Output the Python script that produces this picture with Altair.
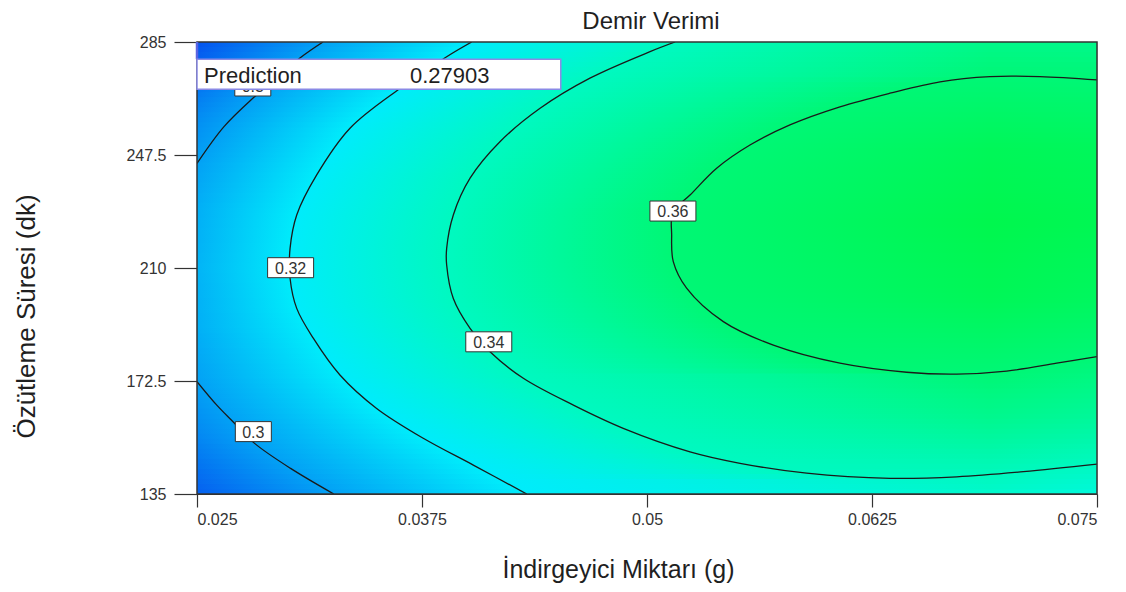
import altair as alt
import numpy as np
import pandas as pd

FONT = "Liberation Sans"
TEXT = "#1f1f1f"

# ---------------- axes ----------------
X_MIN, X_MAX = 0.025, 0.075
Y_MIN, Y_MAX = 135, 285
x_ticks = [0.025, 0.0375, 0.05, 0.0625, 0.075]
y_ticks = [135, 172.5, 210, 247.5, 285]

# ---------------- contour lines ----------------
c030a_x = [0.0320, 0.0307, 0.0281, 0.0265, 0.0250]
c030a_y = [285.0, 279.6, 266.3, 256.9, 244.7]

c030b_x = [0.0250, 0.0261, 0.0270, 0.0282, 0.0302, 0.0326]
c030b_y = [172.3, 164.5, 159.0, 151.8, 143.5, 135.0]

c032_x = [0.04026, 0.03887, 0.03628, 0.0335, 0.03165, 0.03054, 0.03017, 0.03017,
          0.03054, 0.03146, 0.03294, 0.03498, 0.03757, 0.04035, 0.04332]
c032_y = [285.0, 280.1, 269.6, 256.4, 240.9, 227.6, 216.5, 206.6,
          196.6, 186.7, 174.5, 163.4, 153.5, 144.6, 135.0]

c034_x = [0.05156, 0.05017, 0.04683, 0.04406, 0.04183, 0.04017, 0.03924, 0.03887,
          0.03887, 0.03924, 0.04017, 0.04128, 0.04313, 0.04591, 0.04868, 0.05239,
          0.05517, 0.05887, 0.0635, 0.06721, 0.07091, 0.075]
c034_y = [285.0, 281.8, 273.0, 263.0, 251.9, 239.8, 227.6, 216.5,
          211.0, 199.9, 190.0, 182.2, 173.4, 164.5, 156.8, 149.0,
          145.2, 141.9, 140.2, 140.7, 142.4, 144.9]

c036_x = [0.075, 0.07183, 0.06906, 0.06628, 0.0635, 0.06072, 0.05794, 0.05572,
          0.05387, 0.05239, 0.05144, 0.05137, 0.05146, 0.0522, 0.05424, 0.05702,
          0.06072, 0.06443, 0.06721, 0.06998, 0.07276, 0.075]
c036_y = [272.4, 273.5, 273.5, 271.8, 268.0, 263.5, 257.5, 250.8,
          243.1, 234.2, 228.6, 221.0, 212.1, 203.3, 192.2, 184.4,
          178.4, 175.4, 174.8, 175.8, 178.4, 180.6]

contours = [
    ("a", 0.30, c030a_x, c030a_y),
    ("b", 0.30, c030b_x, c030b_y),
    ("c", 0.32, c032_x, c032_y),
    ("d", 0.34, c034_x, c034_y),
    ("e", 0.36, c036_x, c036_y),
]

# contour labels
label_text = ["0.36", "0.34", "0.32", "0.3", "0.3"]
label_x = [0.05144, 0.04121, 0.0302, 0.02813, 0.0281]
label_y = [228.9, 185.5, 210.1, 155.7, 270.4]

# response estimated along the two edges and the ridge column (x = 0.069)
left_edge_y = [285, 260, 244.7, 230, 210, 190, 172.3, 155, 135]
left_edge_z = [0.279, 0.2943, 0.300, 0.3036, 0.3050, 0.3038, 0.300, 0.2934, 0.2825]
ridge_x = 0.069
ridge_y = [285, 273, 250, 225, 200, 175, 160, 141, 135]
ridge_z = [0.3545, 0.360, 0.3675, 0.3704, 0.3680, 0.360, 0.3531, 0.3405, 0.3366]
right_edge_y = [285, 272.4, 250, 226.5, 200, 180.6, 160, 144.9, 135]
right_edge_z = [0.3543, 0.360, 0.3668, 0.3692, 0.3661, 0.360, 0.3499, 0.340, 0.3326]

# colour map (response -> colour), blue -> cyan -> green
cmap_z = [0.2566, 0.3239, 0.3912]
cmap_r = [8, 0, 0]
cmap_g = [0, 250, 245]
cmap_b = [232, 252, 0]

# prediction flag
pred_label = "Prediction"
pred_value = "0.27903"
pred_box_x = [0.025, 0.04521]
pred_box_y = [279.3, 269.3]
pred_text_x = [0.02539, 0.03683]
pred_text_y = 271.3


def zcolor(z):
    r = np.interp(z, cmap_z, cmap_r)
    g = np.interp(z, cmap_z, cmap_g)
    b = np.interp(z, cmap_z, cmap_b)
    return "#%02x%02x%02x" % (int(round(r)), int(round(g)), int(round(b)))


def edge(yc, ys, zs):
    return float(np.interp(yc, ys[::-1], zs[::-1]))


def crossings(xs, ys, yc):
    out = []
    for i in range(len(xs) - 1):
        y0, y1 = ys[i], ys[i + 1]
        if y0 == y1:
            continue
        if (y0 - yc) * (y1 - yc) <= 0:
            t = (yc - y0) / (y1 - y0)
            out.append(xs[i] + t * (xs[i + 1] - xs[i]))
    return out


xscale = alt.Scale(domain=[X_MIN, X_MAX], nice=False, zero=False)
yscale = alt.Scale(domain=[Y_MIN, Y_MAX], nice=False, zero=False)

xaxis = alt.Axis(values=x_ticks, labelExpr="'' + datum.value", grid=False, domain=True,
                 domainColor="#333333",
                 tickSize=13, tickColor="#333333", tickWidth=1.2,
                 labelFont=FONT, labelFontSize=16, labelColor="#333333", labelPadding=4,
                 title="İndirgeyici Miktarı (g)", titleFont=FONT, titleFontSize=25,
                 titleFontWeight="normal", titleColor=TEXT, titleX=421, titleY=83,
                 titleAlign="center", titleBaseline="alphabetic")
yaxis = alt.Axis(values=y_ticks, labelExpr="'' + datum.value", grid=False, domain=True,
                 domainColor="#333333",
                 tickSize=23, tickColor="#333333", tickWidth=1.2,
                 labelFont=FONT, labelFontSize=16, labelColor="#333333", labelPadding=8,
                 title="Özütleme Süresi (dk)", titleFont=FONT, titleFontSize=26,
                 titleFontWeight="normal", titleColor=TEXT, titleAngle=270,
                 titleX=-163, titleY=274, titleAlign="center", titleBaseline="alphabetic")


def X(v):
    if isinstance(v, str):
        return alt.X(v, scale=xscale, axis=xaxis)
    return alt.XDatum(v, scale=xscale, axis=xaxis)


def Y(v):
    if isinstance(v, str):
        return alt.Y(v, scale=yscale, axis=yaxis)
    return alt.YDatum(v, scale=yscale, axis=yaxis)


# ---------------- contour table ----------------
rows = []
for cid, lev, xs, ys in contours:
    for i, (xv, yv) in enumerate(zip(xs, ys)):
        rows.append({"cid": cid, "i": i, "x": xv, "y": yv})
cdf = pd.DataFrame(rows)

# ---------------- background shading (horizontal bands with gradients) ----------------
N = 90
band_edges = [Y_MIN + k * (Y_MAX - Y_MIN) / N for k in range(N + 1)]
layers = []
for k in range(N):
    y0, y1 = band_edges[k], band_edges[k + 1]
    yc = 0.5 * (y0 + y1)
    stops = [(0.0, edge(yc, left_edge_y, left_edge_z)),
             ((ridge_x - X_MIN) / (X_MAX - X_MIN), edge(yc, ridge_y, ridge_z)),
             (1.0, edge(yc, right_edge_y, right_edge_z))]
    for _, lev, xs, ys in contours:
        for xc in crossings(xs, ys, yc):
            stops.append((min(max((xc - X_MIN) / (X_MAX - X_MIN), 0.0), 1.0), lev))
    stops.sort(key=lambda s: s[0])
    grad = alt.LinearGradient(
        gradient="linear", x1=0, x2=1, y1=0, y2=0,
        stops=[alt.GradientStop(offset=float(o), color=zcolor(z)) for o, z in stops])
    layers.append(
        alt.Chart(pd.DataFrame({"v": [k]})).mark_rect(color=grad, clip=True).encode(
            x=X(X_MIN), x2=alt.X2Datum(X_MAX),
            y=Y(y0), y2=alt.Y2Datum(min(y1 + 0.45, Y_MAX)))
    )

# ---------------- contour lines ----------------
lines = alt.Chart(cdf).mark_line(interpolate="catmull-rom", clip=True, color="#1a1a1a",
                                 strokeWidth=1.3).encode(
    x=X("x:Q"), y=Y("y:Q"), detail="cid:N", order="i:Q")

ldf = pd.DataFrame({"t": label_text, "x": label_x, "y": label_y})
ldf["n"] = ldf["t"].str.len()

box_long = alt.Chart(ldf).transform_filter("datum.n > 3").mark_rect(
    width=46, height=20, fill="white", stroke="#333333", strokeWidth=1).encode(
    x=X("x:Q"), y=Y("y:Q"))
box_short = alt.Chart(ldf).transform_filter("datum.n <= 3").mark_rect(
    width=36, height=20, fill="white", stroke="#333333", strokeWidth=1).encode(
    x=X("x:Q"), y=Y("y:Q"))
ltext = alt.Chart(ldf).mark_text(font=FONT, fontSize=16, color="#333333",
                                 align="center", baseline="middle", dy=1).encode(
    x=X("x:Q"), y=Y("y:Q"), text="t:N")

# frame on top of shading
frame = alt.Chart(pd.DataFrame({"v": [0]})).mark_rect(
    filled=False, stroke="#333333", strokeWidth=1.5).encode(
    x=X(X_MIN), x2=alt.X2Datum(X_MAX), y=Y(Y_MIN), y2=alt.Y2Datum(Y_MAX))

# prediction flag
pole = alt.Chart(pd.DataFrame({"v": [0]})).mark_rule(color="#5a64e0", strokeWidth=2.5).encode(
    x=X(X_MIN), y=Y(Y_MAX), y2=alt.Y2Datum(pred_box_y[0]))
pbox = alt.Chart(pd.DataFrame({"v": [0]})).mark_rect(
    fill="white", stroke="#8a8ae6", strokeWidth=1.5).encode(
    x=X(pred_box_x[0]), x2=alt.X2Datum(pred_box_x[1]),
    y=Y(pred_box_y[0]), y2=alt.Y2Datum(pred_box_y[1]))
pdf = pd.DataFrame({"t": [pred_label, pred_value], "x": pred_text_x, "y": [pred_text_y] * 2})
ptext = alt.Chart(pdf).mark_text(font=FONT, fontSize=22, color=TEXT, align="left",
                                 baseline="alphabetic").encode(
    x=X("x:Q"), y=Y("y:Q"), text="t:N")

chart = alt.layer(*layers, lines, frame, box_long, box_short, ltext,
                  pole, pbox, ptext).properties(
    width=900, height=452,
    title=alt.TitleParams("Demir Verimi", font=FONT, fontSize=24, fontWeight="normal",
                          color=TEXT, anchor="middle", frame="group", offset=0, dx=4),
    padding={"left": 189, "top": 34, "right": 21, "bottom": 90},
    autosize=alt.AutoSizeParams(type="none"),
).configure_view(stroke=None).configure(background="white")

chart.save("out.html", embed_options={"renderer": "svg", "actions": False})
